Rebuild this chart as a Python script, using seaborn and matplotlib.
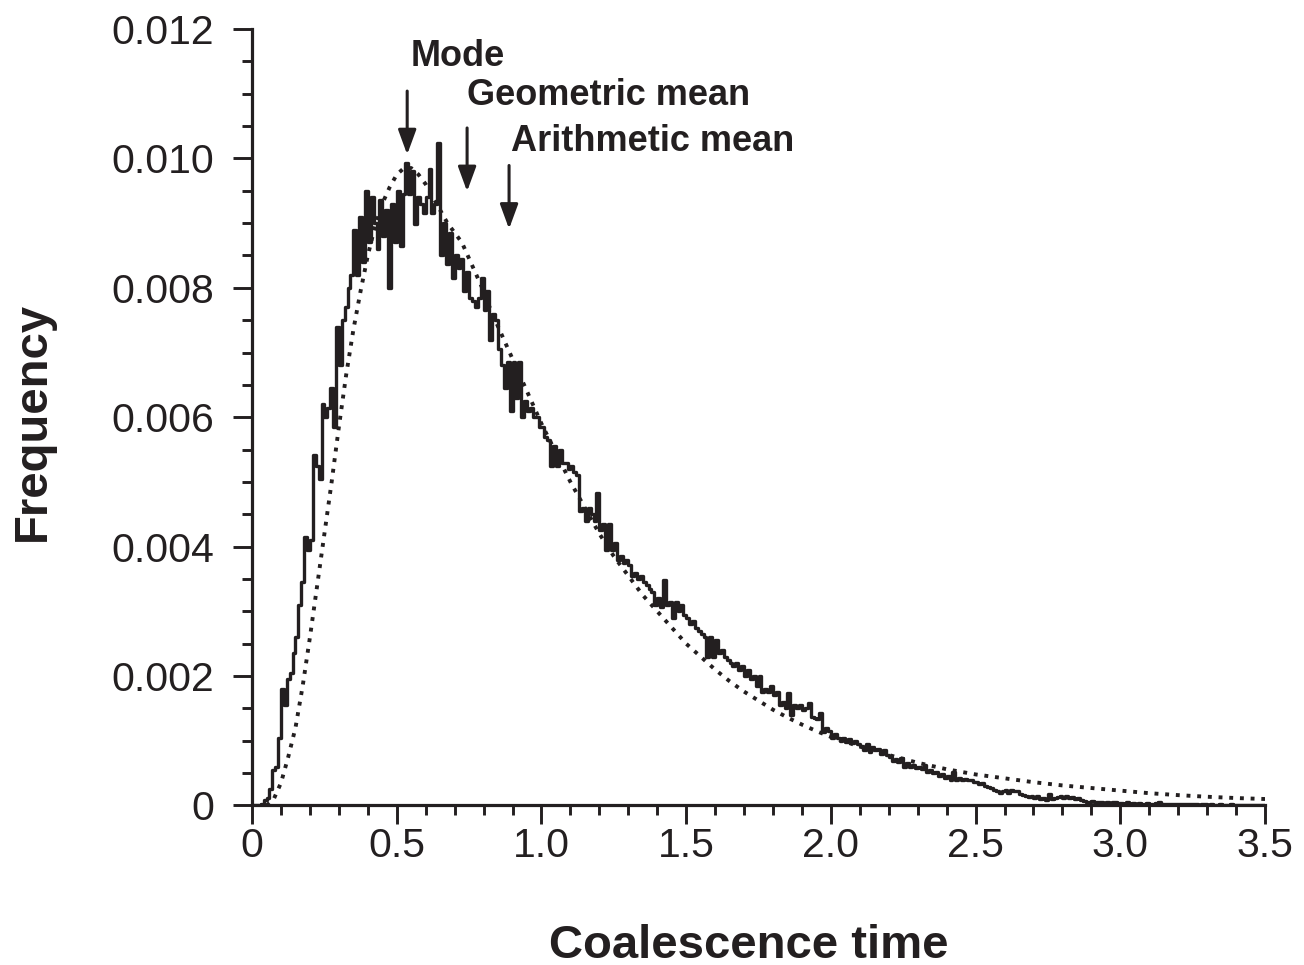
import numpy as np
import pandas as pd
import matplotlib
matplotlib.use("Agg")
import matplotlib.pyplot as plt
from matplotlib.ticker import MultipleLocator, FuncFormatter
import seaborn as sns

# Simulated coalescence-time histogram, bins of width 0.01 starting at 0 (values x 1e-3)
bin_width = 0.01
hist_e3 = [
    0, 0, 0, 0.02, 0.08, 0.12, 0.25, 0.55, 0.6, 1.05,
    1.8, 1.55, 1.95, 2.05, 2.35, 2.6, 3.1, 3.45, 4.15, 3.95,
    4.1, 5.42, 5.25, 5.05, 6.2, 6.0, 6.15, 6.45, 5.85, 7.4,
    6.8, 7.5, 7.7, 8.0, 8.2, 8.9, 8.2, 9.1, 8.4, 9.5,
    8.7, 9.4, 9.0, 8.6, 9.35, 8.8, 9.2, 8.0, 9.3, 8.7,
    9.5, 8.65, 9.45, 9.93, 9.45, 9.8, 8.98, 9.4, 9.3, 9.15,
    9.4, 9.83, 9.16, 9.3, 10.24, 8.5, 9.0, 8.36, 8.85, 8.15,
    8.5, 8.3, 8.45, 7.95, 8.25, 7.85, 7.8, 7.7, 7.85, 8.15,
    7.65, 7.95, 7.2, 7.6, 7.5, 7.05, 6.8, 6.45, 6.85, 6.1,
    6.85, 6.3, 6.85, 6.0, 6.25, 6.1, 6.15, 6.0, 6.0, 5.85,
    5.85, 5.7, 5.65, 5.25, 5.55, 5.25, 5.5, 5.3, 5.3, 5.2,
    5.25, 5.15, 5.1, 4.55, 4.6, 4.4, 4.6, 4.5, 4.4, 4.83,
    4.26, 4.35, 3.95, 4.35, 3.95, 4.05, 3.8, 3.85, 3.75, 3.8,
    3.72, 3.55, 3.6, 3.5, 3.55, 3.45, 3.4, 3.35, 3.3, 3.1,
    3.2, 3.07, 3.49, 3.1, 3.15, 2.9, 3.15, 3.0, 3.1, 2.95,
    2.9, 2.8, 2.85, 2.75, 2.7, 2.65, 2.6, 2.3, 2.6, 2.3,
    2.55, 2.35, 2.4, 2.3, 2.25, 2.2, 2.15, 2.2, 2.1, 2.15,
    2.0, 2.1, 1.95, 2.0, 1.85, 2.0, 1.75, 1.8, 1.75, 1.84,
    1.7, 1.75, 1.55, 1.6, 1.5, 1.74, 1.4, 1.55, 1.5, 1.55,
    1.48, 1.5, 1.59, 1.37, 1.35, 1.33, 1.43, 1.14, 1.2, 1.15,
    1.05, 1.1, 1.05, 1.0, 1.05, 0.98, 1.02, 0.97, 1.0, 0.95,
    0.92, 0.85, 0.95, 0.82, 0.9, 0.85, 0.88, 0.8, 0.85, 0.78,
    0.75, 0.68, 0.72, 0.67, 0.74, 0.6, 0.65, 0.6, 0.62, 0.58,
    0.6, 0.56, 0.62, 0.52, 0.55, 0.5, 0.52, 0.46, 0.48, 0.42,
    0.45, 0.4, 0.52, 0.4, 0.42, 0.4, 0.41, 0.39, 0.4, 0.37,
    0.36, 0.33, 0.34, 0.3, 0.28, 0.27, 0.24, 0.23, 0.2, 0.22,
    0.24, 0.19, 0.24, 0.22, 0.23, 0.18, 0.16, 0.15, 0.13, 0.14,
    0.12, 0.14, 0.1, 0.12, 0.09, 0.18, 0.1, 0.11, 0.13, 0.14,
    0.12, 0.14, 0.12, 0.13, 0.1, 0.12, 0.08, 0.07, 0.06, 0.05,
    0.07, 0.05, 0.06, 0.05, 0.04, 0.05, 0.04, 0.06, 0.05, 0.04,
    0.04, 0.03, 0.05, 0.03, 0.04, 0.03, 0.04, 0.03, 0.03, 0.04,
    0.03, 0.03, 0.04, 0.06, 0.03, 0.02, 0.03, 0.02, 0.03, 0.02,
    0.02, 0.03, 0.02, 0.02, 0.02, 0.03, 0.02, 0.01, 0.02, 0.02,
    0.01, 0.02, 0.01, 0.01, 0.02, 0.01, 0.01, 0.01, 0.02, 0.01,
    0.01, 0.01, 0.01, 0.0, 0.01, 0.01, 0.0, 0.01, 0.0, 0.0,
]

# Theoretical curve (dotted) (values x 1e-3)
curve_t = [0.05, 0.075, 0.1, 0.125, 0.15, 0.175, 0.2, 0.225, 0.25, 0.275,
           0.3, 0.325, 0.35, 0.375, 0.4, 0.425, 0.45, 0.475, 0.5, 0.525,
           0.55, 0.575, 0.6, 0.625, 0.65, 0.675, 0.7, 0.725, 0.75, 0.775,
           0.8, 0.825, 0.85, 0.875, 0.9, 0.925, 0.95, 0.975, 1.0, 1.05,
           1.1, 1.15, 1.2, 1.25, 1.3, 1.35, 1.4, 1.45, 1.5, 1.55,
           1.6, 1.65, 1.7, 1.75, 1.8, 1.85, 1.9, 1.95, 2.0, 2.1,
           2.2, 2.3, 2.4, 2.5, 2.6, 2.7, 2.8, 2.9, 3.0, 3.1,
           3.2, 3.3, 3.4, 3.5]
curve_e3 = [0.0, 0.1, 0.35, 0.75, 1.2, 1.85, 2.6, 3.4, 4.2, 5.0,
            5.85, 6.65, 7.35, 7.95, 8.5, 8.95, 9.3, 9.55, 9.75, 9.85,
            9.85, 9.75, 9.6, 9.4, 9.2, 9.0, 8.85, 8.7, 8.45, 8.2,
            7.95, 7.65, 7.4, 7.15, 6.9, 6.65, 6.4, 6.15, 5.9, 5.45,
            5.0, 4.6, 4.2, 3.85, 3.55, 3.25, 3.0, 2.75, 2.5, 2.3,
            2.1, 1.92, 1.76, 1.62, 1.48, 1.36, 1.25, 1.15, 1.06, 0.91,
            0.78, 0.66, 0.56, 0.48, 0.42, 0.36, 0.31, 0.27, 0.23, 0.19,
            0.16, 0.135, 0.115, 0.1]

# Summary statistics marked with arrows
stat_names = ["Mode", "Geometric mean", "Arithmetic mean"]
stat_values = [0.536, 0.743, 0.888]

hist = np.array(hist_e3) * 1e-3
edges = np.arange(len(hist) + 1) * bin_width
hist_df = pd.DataFrame({"t": edges, "freq": np.append(hist, hist[-1])})
curve_df = pd.DataFrame({"t": curve_t, "freq": np.array(curve_e3) * 1e-3})

sns.set_style("ticks")
plt.rcParams["font.family"] = ["Liberation Sans", "DejaVu Sans"]

ink = "#231f20"
fig = plt.figure(figsize=(13.04, 9.65), dpi=100)
ax = fig.add_axes([0.1933, 0.1653, 0.7768, 0.8047])

sns.lineplot(data=curve_df, x="t", y="freq", ax=ax, color=ink,
             linewidth=2.8, linestyle=(0, (1.0, 1.75)), estimator=None)
sns.lineplot(data=hist_df, x="t", y="freq", ax=ax, color=ink,
             linewidth=2.4, drawstyle="steps-post", estimator=None)

ax.set_xlim(0, 3.5)
ax.set_ylim(0, 0.012)
ax.xaxis.set_major_locator(MultipleLocator(0.5))
ax.xaxis.set_minor_locator(MultipleLocator(0.1))
ax.yaxis.set_major_locator(MultipleLocator(0.002))
ax.yaxis.set_minor_locator(MultipleLocator(0.0005))
ax.xaxis.set_major_formatter(FuncFormatter(lambda v, p: "0" if v == 0 else f"{v:.1f}"))
ax.yaxis.set_major_formatter(FuncFormatter(lambda v, p: "0" if v == 0 else f"{v:.3f}"))

sns.despine(ax=ax)
for side in ["left", "bottom"]:
    ax.spines[side].set_linewidth(2.3)
    ax.spines[side].set_color(ink)
ax.tick_params(which="major", length=13.5, width=2.1, color=ink, labelsize=29.5,
               labelcolor=ink)
ax.tick_params(which="minor", length=7.5, width=2.1, color=ink)
ax.tick_params(axis="y", which="major", pad=14)
ax.tick_params(axis="x", which="major", pad=2)

ax.set_xlabel("Coalescence time", fontsize=34, fontweight="bold", color=ink)
ax.set_ylabel("Frequency", fontsize=34, fontweight="bold", color=ink)
ax.xaxis.set_label_coords(0.49, -0.152)
ax.yaxis.set_label_coords(-0.195, 0.494)

# arrows and labels for the summary statistics
text_offsets = [(0.013, 0.01157), (0.0, 0.01097), (0.007, 0.01026)]
arrow_tips = [0.01006, 0.00949, 0.00891]
for name, val, (dx, ty), tip in zip(stat_names, stat_values, text_offsets, arrow_tips):
    ax.annotate("", xy=(val, tip), xytext=(val, tip + 0.00098),
                arrowprops=dict(arrowstyle="-|>,head_length=1.5,head_width=0.55",
                                color=ink, lw=2.2, shrinkA=0, shrinkB=0))
    ax.text(val + dx, ty, name, fontsize=26, fontweight="bold", color=ink,
            ha="left", va="center")

fig.savefig("out.png", dpi=100, facecolor="white")
